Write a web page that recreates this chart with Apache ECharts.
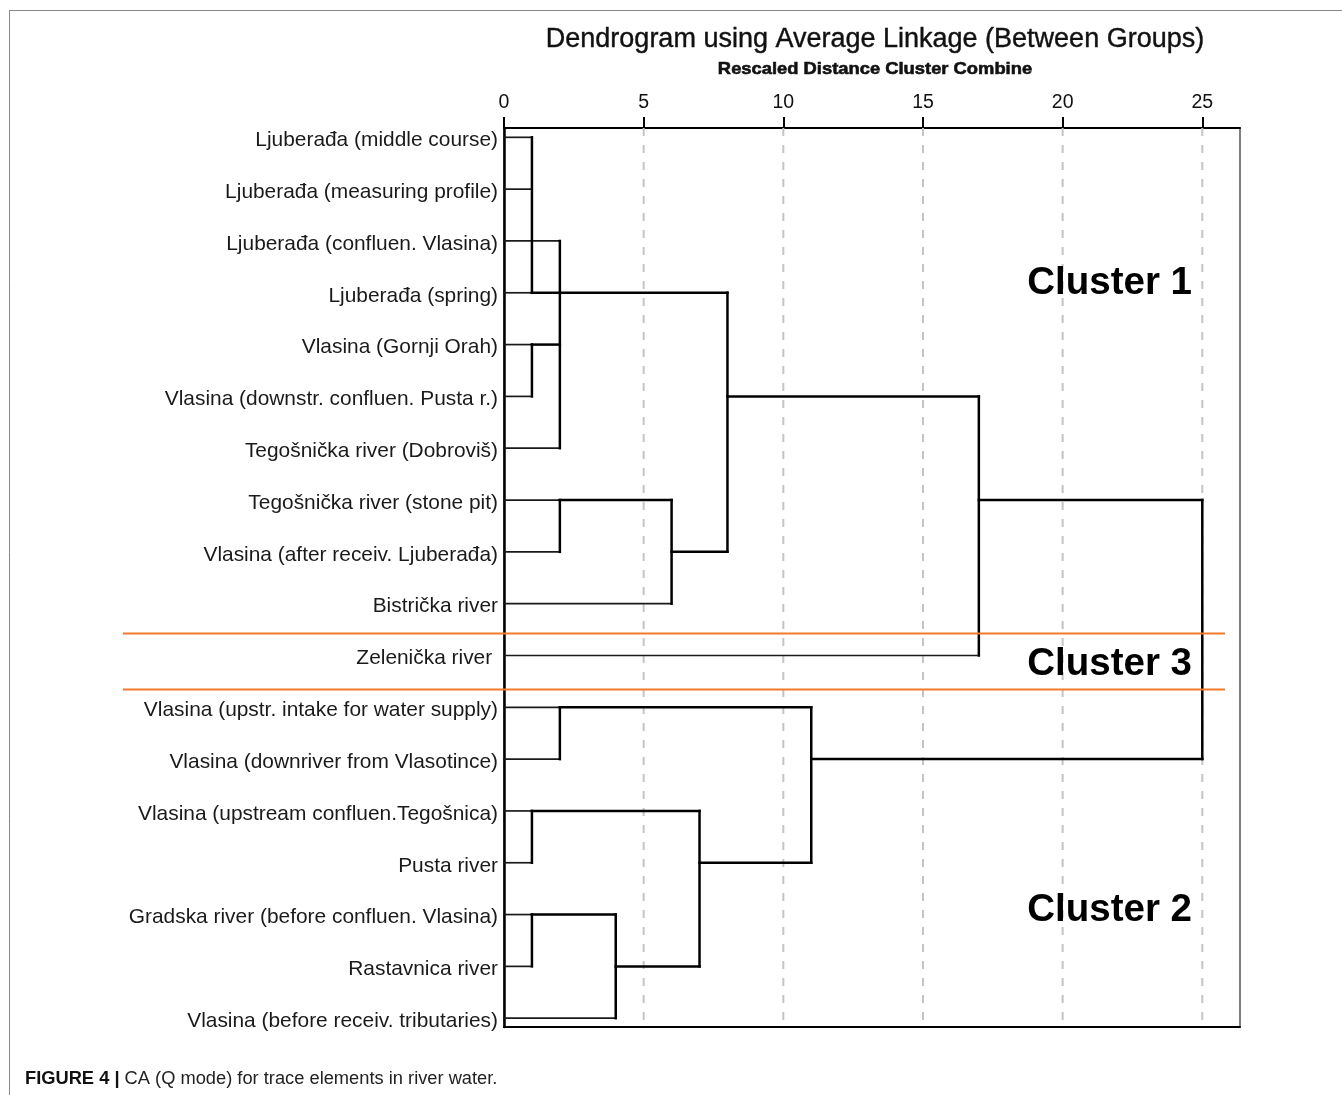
<!DOCTYPE html>
<html>
<head>
<meta charset="utf-8">
<script src="https://cdn.jsdelivr.net/npm/echarts@6/dist/echarts.min.js"></script>
<style>
  html, body { margin: 0; padding: 0; background: #fff; }
  #chart { width: 1342px; height: 1095px; }
</style>
</head>
<body>
<div id="chart"></div>
<script>
// leaves, top to bottom
const leafNames = [
    'Ljuberađa (middle course)',
    'Ljuberađa (measuring profile)',
    'Ljuberađa (confluen. Vlasina)',
    'Ljuberađa (spring)',
    'Vlasina (Gornji Orah)',
    'Vlasina (downstr. confluen. Pusta r.)',
    'Tegošnička river (Dobroviš)',
    'Tegošnička river (stone pit)',
    'Vlasina (after receiv. Ljuberađa)',
    'Bistrička river',
    'Zelenička river ',
    'Vlasina (upstr. intake for water supply)',
    'Vlasina (downriver from Vlasotince)',
    'Vlasina (upstream confluen.Tegošnica)',
    'Pusta river',
    'Gradska river (before confluen. Vlasina)',
    'Rastavnica river',
    'Vlasina (before receiv. tributaries)'
];
// merges c0..c13 : rescaled distance, members (leaf index or 'cN'), row the cluster line leaves from
const mergeDist = [1, 1, 2, 2, 6, 8, 17, 2, 1, 1, 4, 7, 11, 25];
const mergeMembers = [
    [0, 1, 3], [4, 5], [2, 'c0', 'c1', 6], [7, 8], ['c3', 9], ['c2', 'c4'], ['c5', 10],
    [11, 12], [13, 14], [15, 16], ['c9', 17], ['c8', 'c10'], ['c7', 'c11'], ['c6', 'c12']
];
const mergeRow = [3, 4, 3, 7, 8, 5, 7, 11, 13, 15, 16, 14, 12, null];
const tickValues = [0, 5, 10, 15, 20, 25];
const gridValues = [5, 10, 15, 20, 25];

// build segments from the tree
let leafSegs = [], clusterSegs = []
let parentOf = {}
mergeMembers.forEach((m, k) => m.forEach(c => { parentOf[String(c)] = k }))
function rowOf(c) { return typeof c === 'number' ? c : mergeRow[+c.slice(1)] }
leafNames.forEach((n, i) => {
    leafSegs.push([0, i, mergeDist[parentOf[String(i)]], i])
})
mergeMembers.forEach((m, k) => {
    let rows = m.map(rowOf)
    clusterSegs.push([mergeDist[k], Math.min(...rows), mergeDist[k], Math.max(...rows)])
    let p = parentOf['c' + k]
    if (p !== undefined) clusterSegs.push([mergeDist[k], mergeRow[k], mergeDist[p], mergeRow[k]])
})

const yMin = -0.18, yMax = 17.17
const font = '"Liberation Sans", Arial, sans-serif'

var chart = echarts.init(document.getElementById('chart'));

function segRender(width, color) {
    return function (params, api) {
        let a = api.coord([api.value(0), api.value(1)])
        let b = api.coord([api.value(2), api.value(3)])
        return {
            type: 'line',
            shape: { x1: a[0], y1: a[1], x2: b[0], y2: b[1] },
            style: { stroke: color, lineWidth: width, lineCap: 'square' }
        }
    }
}

option = {
    animation: false,
    backgroundColor: '#fff',
    grid: { left: 504, right: 102, top: 128, bottom: 68, show: true, borderColor: '#555', borderWidth: 1.5 },
    xAxis: [{
        type: 'value', position: 'top', min: 0, max: 26.35,
        axisLine: { onZero: false, lineStyle: { color: '#000', width: 2 } },
        axisTick: { show: true, customValues: tickValues, length: 11, lineStyle: { color: '#000', width: 2 } },
        axisLabel: { customValues: tickValues, fontSize: 19.5, color: '#111', margin: 15, fontFamily: font },
        splitLine: { show: false }
    }, {
        type: 'value', position: 'bottom', min: 0, max: 26.35,
        axisLine: { onZero: false, lineStyle: { color: '#000', width: 2 } },
        axisTick: { show: false }, axisLabel: { show: false }, splitLine: { show: false }
    }],
    yAxis: {
        type: 'value', inverse: true, min: yMin, max: yMax,
        axisLine: { show: true, onZero: false, lineStyle: { color: '#000', width: 2.5 } },
        axisTick: { show: false }, axisLabel: { show: false }, splitLine: { show: false }
    },
    series: [
        {
            type: 'custom', clip: false, z: 1,
            data: gridValues,
            renderItem: function (params, api) {
                let a = api.coord([api.value(0), yMin])
                let b = api.coord([api.value(0), yMax])
                return {
                    type: 'line',
                    shape: { x1: a[0], y1: a[1], x2: b[0], y2: b[1] },
                    style: { stroke: '#c4c4c4', lineWidth: 2, lineDash: [8, 9] }
                }
            }
        },
        { type: 'custom', clip: false, z: 3, data: leafSegs, renderItem: segRender(1.7, '#1a1a1a') },
        { type: 'custom', clip: false, z: 4, data: clusterSegs, renderItem: segRender(2.5, '#000') },
        {
            type: 'custom', clip: false, z: 5,
            data: leafNames.map((n, i) => [0, i, n]),
            renderItem: function (params, api) {
                let p = api.coord([0, api.value(1)])
                return {
                    type: 'text',
                    x: p[0] - 6, y: p[1] + 3,
                    style: {
                        text: leafNames[params.dataIndex], align: 'right', verticalAlign: 'middle',
                        font: '20.9px ' + font, fill: '#1a1a1a'
                    }
                }
            }
        }
    ],
    graphic: [
        { type: 'line', shape: { x1: 10, y1: 10.5, x2: 1342, y2: 10.5 }, style: { stroke: '#888', lineWidth: 1 } },
        { type: 'line', shape: { x1: 9.5, y1: 10, x2: 9.5, y2: 1095 }, style: { stroke: '#888', lineWidth: 1 } },
        { type: 'text', x: 875, y: 40, style: { text: 'Dendrogram using Average Linkage (Between Groups)', align: 'center', verticalAlign: 'middle', font: '27px ' + font, fill: '#111', stroke: '#111', lineWidth: 0.4 } },
        { type: 'text', x: 875, y: 69, scaleX: 1.08, originX: 0, originY: 0, style: { text: 'Rescaled Distance Cluster Combine', align: 'center', verticalAlign: 'middle', font: 'bold 17px ' + font, fill: '#111', stroke: '#111', lineWidth: 0.6 } },
        { type: 'line', shape: { x1: 123, y1: 633.5, x2: 1225, y2: 633.5 }, style: { stroke: '#f07a2a', lineWidth: 2 }, z: 10 },
        { type: 'line', shape: { x1: 123, y1: 689.5, x2: 1225, y2: 689.5 }, style: { stroke: '#f07a2a', lineWidth: 2 }, z: 10 },
        { type: 'text', x: 1192, y: 283, style: { text: 'Cluster 1', align: 'right', verticalAlign: 'middle', font: 'bold 38.5px ' + font, fill: '#000' }, z: 10 },
        { type: 'text', x: 1192, y: 664, style: { text: 'Cluster 3', align: 'right', verticalAlign: 'middle', font: 'bold 38.5px ' + font, fill: '#000' }, z: 10 },
        { type: 'text', x: 1192, y: 910, style: { text: 'Cluster 2', align: 'right', verticalAlign: 'middle', font: 'bold 38.5px ' + font, fill: '#000' }, z: 10 },
        {
            type: 'text', x: 25, y: 1079,
            style: {
                text: '{b|FIGURE 4 |} CA (Q mode) for trace elements in river water.',
                verticalAlign: 'middle', font: '18.3px ' + font, fill: '#222',
                rich: { b: { fontWeight: 'bold', fontSize: 18.3, fontFamily: font, fill: '#111' } }
            }
        }
    ]
};

chart.setOption(option);
window.addEventListener('resize', function () {
    chart.resize();
});
</script>
</body>
</html>
